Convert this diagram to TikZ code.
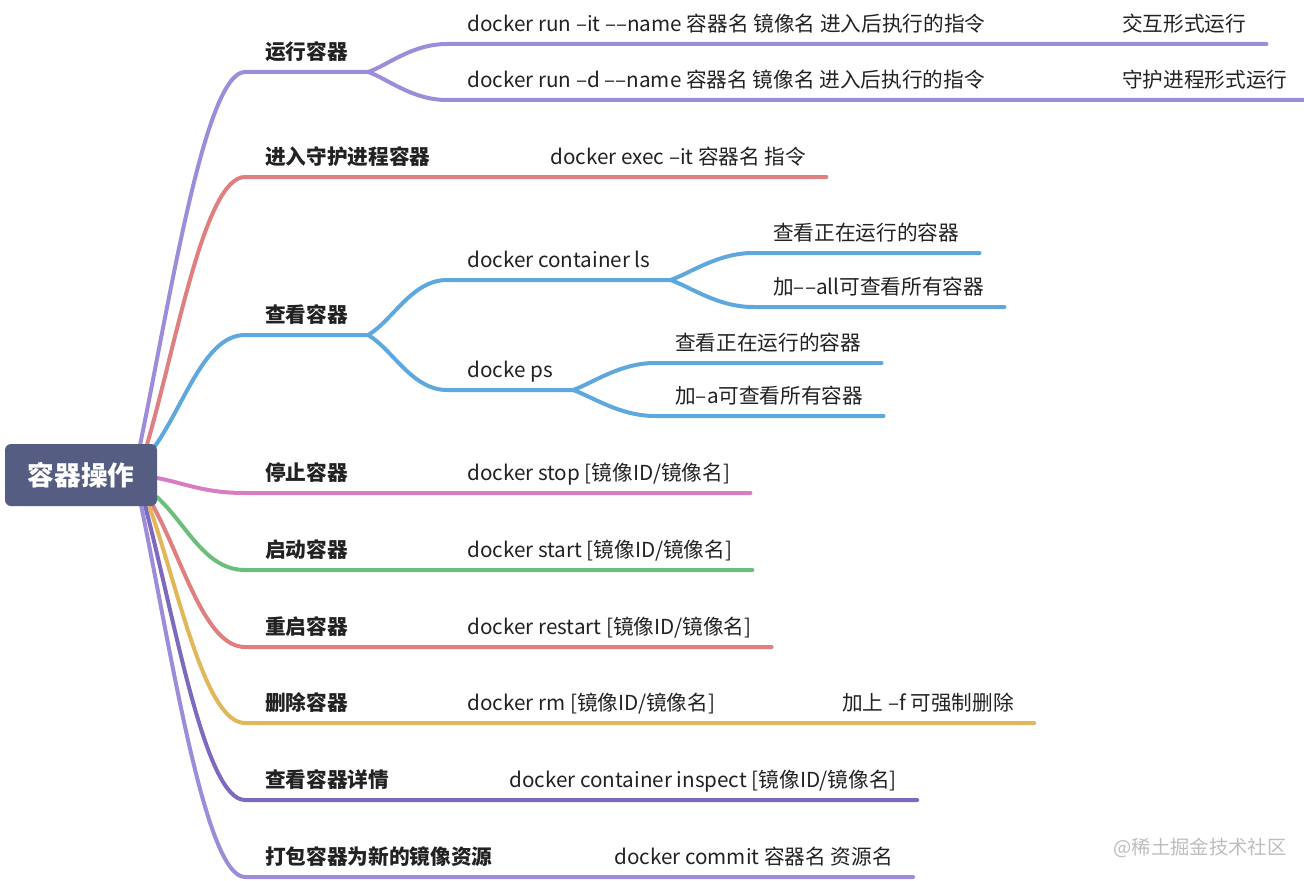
\documentclass[tikz,border=0pt]{standalone}
\usepackage{fontspec}
\setmainfont{Noto Sans CJK SC}
\usetikzlibrary{calc,backgrounds}
\definecolor{rootslate}{HTML}{565D83}
\definecolor{runpurple}{HTML}{9D8CDA}
\definecolor{execred}{HTML}{E07F80}
\definecolor{listblue}{HTML}{5FA8DD}
\definecolor{stoppink}{HTML}{D87DC3}
\definecolor{startgreen}{HTML}{6BBE7B}
\definecolor{rmyellow}{HTML}{E0B75A}
\definecolor{inspectpurple}{HTML}{7D6ABE}
\definecolor{inkgray}{HTML}{222222}
\definecolor{markgray}{HTML}{BDBDBD}
\newcommand\dsh{–}
\newcommand\dd{–\kern0pt–}

\begin{document}
\begin{tikzpicture}[
  x=0.75pt, y=-0.75pt,
  font=\fontsize{15.5}{18}\selectfont,
  root/.style={fill=rootslate, rounded corners=4.5pt, minimum width=114pt,
               minimum height=46.5pt, text=white,
               font=\fontsize{20}{24}\selectfont\bfseries},
  item/.style={anchor=south west, inner xsep=15pt, inner ysep=9pt,
               text depth=0pt, text=inkgray},
  topic/.style={item, font=\fontsize{15.5}{18}\selectfont\bfseries},
  branch/.style={line width=3pt, line cap=round, line join=round},
  wmark/.style={text=markgray, font=\fontsize{14.5}{17}\selectfont}
]
\useasboundingbox (0,0) rectangle (1304,881);

% central topic
\node[root] (root) at (81,475) {容器操作};

% first level
\node[topic] (run) at (245,72) {运行容器};
\node[topic] (enter) at (245,177) {进入守护进程容器};
\node[topic] (list) at (245,335) {查看容器};
\node[topic] (stop) at (245,493) {停止容器};
\node[topic] (start) at (245,570) {启动容器};
\node[topic] (restart) at (245,647) {重启容器};
\node[topic] (remove) at (245,723) {删除容器};
\node[topic] (inspect) at (245,800) {查看容器详情};
\node[topic] (commit) at (245,877) {打包容器为新的镜像资源};

% commands and notes
\node[item] (runit) at (447,44) {docker run \dsh it \dd name 容器名 镜像名 进入后执行的指令};
\node[item] (itmode) at (1102,44) {交互形式运行};
\node[item] (rund) at (447,100) {docker run \dsh d \dd name 容器名 镜像名 进入后执行的指令};
\node[item] (dmode) at (1102,100) {守护进程形式运行};
\node[item] (execcmd) at (530,177) {docker exec \dsh it 容器名 指令};
\node[item] (ls) at (447,280) {docker container ls};
\node[item] (lsrun) at (753,253) {查看正在运行的容器};
\node[item] (lsall) at (753,307) {加\dd all可查看所有容器};
\node[item] (ps) at (447,390) {docke ps};
\node[item] (psrun) at (655,363) {查看正在运行的容器};
\node[item] (psall) at (655,416) {加\dsh a可查看所有容器};
\node[item] (stopcmd) at (447,493) {docker stop [镜像ID/镜像名]};
\node[item] (startcmd) at (447,570) {docker start [镜像ID/镜像名]};
\node[item] (restartcmd) at (447,647) {docker restart [镜像ID/镜像名]};
\node[item] (rmcmd) at (447,723) {docker rm [镜像ID/镜像名]};
\node[item] (force) at (822,723) {加上 \dsh f 可强制删除};
\node[item] (inspectcmd) at (489,800) {docker container inspect [镜像ID/镜像名]};
\node[item] (commitcmd) at (594,877) {docker commit 容器名 资源名};

\node[wmark] (juejin) at (1200,848) {@稀土掘金技术社区};

\begin{scope}[on background layer]
% branches out of the root
\draw[branch, runpurple] ($(root.north east)+(-17,0)$) .. controls +(30,-145) and +(-40,0) .. (run.south west) -- (run.south east);
\draw[branch, execred] ($(root.north east)+(-10,0)$) .. controls +(30,-104) and +(-40,0) .. (enter.south west) -- (execcmd.south east);
\draw[branch, listblue] ($(root.north east)+(-2,2)$) .. controls +(30,-43) and +(-40,0) .. (list.south west) -- (list.south east);
\draw[branch, stoppink] ($(root.east)+(0,3)$) .. controls +(30,6) and +(-40,0) .. (stop.south west) -- (stopcmd.south east);
\draw[branch, startgreen] ($(root.south east)+(0,-9)$) .. controls +(30,28) and +(-40,0) .. (start.south west) -- (startcmd.south east);
\draw[branch, execred] ($(root.south east)+(-4,0)$) .. controls +(30,55) and +(-40,0) .. (restart.south west) -- (restartcmd.south east);
\draw[branch, rmyellow] ($(root.south east)+(-8,0)$) .. controls +(30,85) and +(-40,0) .. (remove.south west) -- (force.south east);
\draw[branch, inspectpurple] ($(root.south east)+(-12,0)$) .. controls +(30,115) and +(-40,0) .. (inspect.south west) -- (inspectcmd.south east);
\draw[branch, runpurple] ($(root.south east)+(-16,0)$) .. controls +(30,145) and +(-40,0) .. (commit.south west) -- (commitcmd.south east);

% forks
\draw[branch, runpurple] (run.south east) .. controls +(20,-7) and +(-35,0) .. (runit.south west) -- (itmode.south east);
\draw[branch, runpurple] (run.south east) .. controls +(20,7) and +(-35,0) .. (rund.south west) -- (dmode.south east);
\draw[branch, listblue] (list.south east) .. controls +(25,-15) and +(-35,0) .. (ls.south west) -- (ls.south east);
\draw[branch, listblue] (list.south east) .. controls +(25,15) and +(-35,0) .. (ps.south west) -- (ps.south east);
\draw[branch, listblue] (ls.south east) .. controls +(20,-7) and +(-35,0) .. (lsrun.south west) -- (lsrun.south east);
\draw[branch, listblue] (ls.south east) .. controls +(20,7) and +(-35,0) .. (lsall.south west) -- (lsall.south east);
\draw[branch, listblue] (ps.south east) .. controls +(20,-7) and +(-35,0) .. (psrun.south west) -- (psrun.south east);
\draw[branch, listblue] (ps.south east) .. controls +(20,7) and +(-35,0) .. (psall.south west) -- (psall.south east);
\end{scope}
\end{tikzpicture}
\end{document}
